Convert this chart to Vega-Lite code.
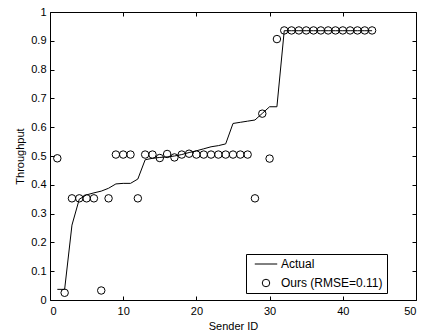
{
  "$schema": "https://vega.github.io/schema/vega-lite/v6.json",
  "width": 366,
  "height": 288,
  "autosize": {"type": "none"},
  "padding": {"left": 50, "top": 12, "right": 8, "bottom": 33},
  "config": {
    "view": {"stroke": "#000", "strokeWidth": 1},
    "font": "Liberation Sans",
    "axis": {
      "grid": false,
      "domain": false,
      "tickColor": "#000",
      "tickSize": -4,
      "labelColor": "#000",
      "labelFontSize": 11,
      "labelFont": "Liberation Sans",
      "titleFontSize": 11,
      "titleFont": "Liberation Sans",
      "titleFontWeight": "normal",
      "titleColor": "#000"
    }
  },
  "layer": [
    {
      "data": {
        "values": [
          {"id": 1, "throughput": 0.037}, {"id": 2, "throughput": 0.037},
          {"id": 3, "throughput": 0.26}, {"id": 4, "throughput": 0.35},
          {"id": 5, "throughput": 0.365}, {"id": 6, "throughput": 0.372},
          {"id": 7, "throughput": 0.378}, {"id": 8, "throughput": 0.388},
          {"id": 9, "throughput": 0.403}, {"id": 10, "throughput": 0.405},
          {"id": 11, "throughput": 0.405}, {"id": 12, "throughput": 0.42},
          {"id": 13, "throughput": 0.487}, {"id": 14, "throughput": 0.492},
          {"id": 15, "throughput": 0.495}, {"id": 16, "throughput": 0.497},
          {"id": 17, "throughput": 0.5}, {"id": 18, "throughput": 0.505},
          {"id": 19, "throughput": 0.512}, {"id": 20, "throughput": 0.518},
          {"id": 21, "throughput": 0.525}, {"id": 22, "throughput": 0.532},
          {"id": 23, "throughput": 0.536}, {"id": 24, "throughput": 0.542},
          {"id": 25, "throughput": 0.613}, {"id": 26, "throughput": 0.617},
          {"id": 27, "throughput": 0.621}, {"id": 28, "throughput": 0.625},
          {"id": 29, "throughput": 0.648}, {"id": 30, "throughput": 0.671},
          {"id": 31, "throughput": 0.671}, {"id": 32, "throughput": 0.935},
          {"id": 33, "throughput": 0.935}, {"id": 34, "throughput": 0.935},
          {"id": 35, "throughput": 0.935}, {"id": 36, "throughput": 0.935},
          {"id": 37, "throughput": 0.935}, {"id": 38, "throughput": 0.935},
          {"id": 39, "throughput": 0.935}, {"id": 40, "throughput": 0.935},
          {"id": 41, "throughput": 0.935}, {"id": 42, "throughput": 0.935},
          {"id": 43, "throughput": 0.935}, {"id": 44, "throughput": 0.935}
        ]
      },
      "mark": {"type": "line", "color": "#000", "strokeWidth": 1},
      "encoding": {
        "x": {
          "field": "id", "type": "quantitative",
          "scale": {"domain": [0, 50]},
          "axis": {"orient": "bottom", "title": "Sender ID", "values": [0, 10, 20, 30, 40, 50], "labelPadding": 9, "titlePadding": 4}
        },
        "y": {
          "field": "throughput", "type": "quantitative",
          "scale": {"domain": [0, 1]},
          "axis": {"orient": "left", "title": "Throughput", "values": [0, 0.1, 0.2, 0.3, 0.4, 0.5, 0.6, 0.7, 0.8, 0.9, 1], "format": "~g", "labelPadding": 8, "titlePadding": 5}
        }
      }
    },
    {
      "data": {
        "values": [
          {"id": 1, "throughput": 0.492, "series": "Ours (RMSE=0.11)"},
          {"id": 2, "throughput": 0.025, "series": "Ours (RMSE=0.11)"},
          {"id": 3, "throughput": 0.353, "series": "Ours (RMSE=0.11)"},
          {"id": 4, "throughput": 0.353, "series": "Ours (RMSE=0.11)"},
          {"id": 5, "throughput": 0.353, "series": "Ours (RMSE=0.11)"},
          {"id": 6, "throughput": 0.353, "series": "Ours (RMSE=0.11)"},
          {"id": 7, "throughput": 0.033, "series": "Ours (RMSE=0.11)"},
          {"id": 8, "throughput": 0.353, "series": "Ours (RMSE=0.11)"},
          {"id": 9, "throughput": 0.505, "series": "Ours (RMSE=0.11)"},
          {"id": 10, "throughput": 0.505, "series": "Ours (RMSE=0.11)"},
          {"id": 11, "throughput": 0.505, "series": "Ours (RMSE=0.11)"},
          {"id": 12, "throughput": 0.353, "series": "Ours (RMSE=0.11)"},
          {"id": 13, "throughput": 0.505, "series": "Ours (RMSE=0.11)"},
          {"id": 14, "throughput": 0.505, "series": "Ours (RMSE=0.11)"},
          {"id": 15, "throughput": 0.493, "series": "Ours (RMSE=0.11)"},
          {"id": 16, "throughput": 0.507, "series": "Ours (RMSE=0.11)"},
          {"id": 17, "throughput": 0.495, "series": "Ours (RMSE=0.11)"},
          {"id": 18, "throughput": 0.505, "series": "Ours (RMSE=0.11)"},
          {"id": 19, "throughput": 0.508, "series": "Ours (RMSE=0.11)"},
          {"id": 20, "throughput": 0.505, "series": "Ours (RMSE=0.11)"},
          {"id": 21, "throughput": 0.505, "series": "Ours (RMSE=0.11)"},
          {"id": 22, "throughput": 0.505, "series": "Ours (RMSE=0.11)"},
          {"id": 23, "throughput": 0.505, "series": "Ours (RMSE=0.11)"},
          {"id": 24, "throughput": 0.505, "series": "Ours (RMSE=0.11)"},
          {"id": 25, "throughput": 0.505, "series": "Ours (RMSE=0.11)"},
          {"id": 26, "throughput": 0.505, "series": "Ours (RMSE=0.11)"},
          {"id": 27, "throughput": 0.505, "series": "Ours (RMSE=0.11)"},
          {"id": 28, "throughput": 0.353, "series": "Ours (RMSE=0.11)"},
          {"id": 29, "throughput": 0.647, "series": "Ours (RMSE=0.11)"},
          {"id": 30, "throughput": 0.491, "series": "Ours (RMSE=0.11)"},
          {"id": 31, "throughput": 0.906, "series": "Ours (RMSE=0.11)"},
          {"id": 32, "throughput": 0.936, "series": "Ours (RMSE=0.11)"},
          {"id": 33, "throughput": 0.936, "series": "Ours (RMSE=0.11)"},
          {"id": 34, "throughput": 0.936, "series": "Ours (RMSE=0.11)"},
          {"id": 35, "throughput": 0.936, "series": "Ours (RMSE=0.11)"},
          {"id": 36, "throughput": 0.936, "series": "Ours (RMSE=0.11)"},
          {"id": 37, "throughput": 0.936, "series": "Ours (RMSE=0.11)"},
          {"id": 38, "throughput": 0.936, "series": "Ours (RMSE=0.11)"},
          {"id": 39, "throughput": 0.936, "series": "Ours (RMSE=0.11)"},
          {"id": 40, "throughput": 0.936, "series": "Ours (RMSE=0.11)"},
          {"id": 41, "throughput": 0.936, "series": "Ours (RMSE=0.11)"},
          {"id": 42, "throughput": 0.936, "series": "Ours (RMSE=0.11)"},
          {"id": 43, "throughput": 0.936, "series": "Ours (RMSE=0.11)"},
          {"id": 44, "throughput": 0.936, "series": "Ours (RMSE=0.11)"}
        ]
      },
      "mark": {"type": "point", "filled": false, "color": "#000", "size": 56, "strokeWidth": 1, "opacity": 1},
      "encoding": {
        "x": {
          "field": "id", "type": "quantitative",
          "scale": {"domain": [0, 50]},
          "axis": {"orient": "top", "title": null, "labels": false, "values": [0, 10, 20, 30, 40, 50]}
        },
        "y": {
          "field": "throughput", "type": "quantitative",
          "scale": {"domain": [0, 1]},
          "axis": {"orient": "right", "title": null, "labels": false, "values": [0, 0.1, 0.2, 0.3, 0.4, 0.5, 0.6, 0.7, 0.8, 0.9, 1]}
        },
        "shape": {
          "field": "series", "type": "nominal",
          "scale": {"domain": ["Actual", "Ours (RMSE=0.11)"], "range": ["M-3,0H3", "circle"]},
          "legend": {
            "title": null,
            "orient": "none",
            "legendX": 196,
            "legendY": 242,
            "strokeColor": "#000",
            "fillColor": "#fff",
            "padding": 4,
            "symbolOffset": 10,
            "symbolSize": 56,
            "symbolStrokeColor": "#000",
            "symbolStrokeWidth": 1,
            "symbolFillColor": "transparent",
            "labelFont": "Liberation Sans",
            "labelFontSize": 12,
            "labelColor": "#000",
            "labelOffset": 9,
            "rowPadding": 7,
            "cornerRadius": 0
          }
        }
      }
    }
  ],
  "resolve": {"axis": {"x": "independent", "y": "independent"}}
}
